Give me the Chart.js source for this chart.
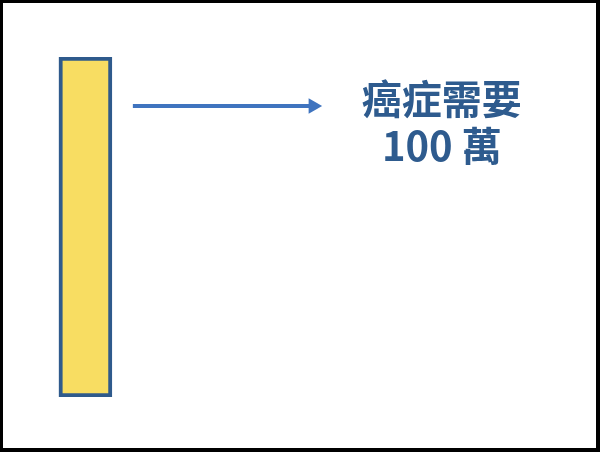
<!DOCTYPE html>
<html>
<head>
<meta charset="utf-8">
<script src="https://cdn.jsdelivr.net/npm/chart.js@4"></script>
<style>
    html, body { margin: 0; padding: 0; background: #fff; }
    .frame {
        width: 600px; height: 452px; box-sizing: border-box;
        border-style: solid; border-color: #000;
        border-width: 3px 4px 4px 3px;
    }
    canvas { display: block; }
</style>
</head>
<body>
<div class="frame"><canvas id="costChart" width="593" height="445"></canvas></div>
<script>
// cost of cancer treatment, in 萬
const barX = [1.39];
const barValues = [100];
const arrowX = [2.19, 5.23];
const arrowY = [85.6, 85.6];
const labelLines = ["癌症需要", "100 萬"];
const labelX = [7.40, 7.40];
const labelY = [87.6, 74.0];

const blueText = "#2E5B8E";

const labelPlugin = {
    id: "labels",
    afterDatasetsDraw(chart) {
        let ctx = chart.ctx,
            xs = chart.scales.x,
            ys = chart.scales.y;
        ctx.save();
        ctx.fillStyle = blueText;
        ctx.font = "bold 40px 'Noto Sans CJK TC'";
        ctx.textAlign = "center";
        ctx.textBaseline = "middle";
        for (let i = 0; i < labelLines.length; i++) {
            ctx.fillText(labelLines[i], xs.getPixelForValue(labelX[i]), ys.getPixelForValue(labelY[i]));
        }
        ctx.restore();
    },
};

const data = {
    datasets: [{
        type: "bar",
        data: barX.map((x, i) => ({x: x, y: barValues[i]})),
        backgroundColor: "#F8DD62",
        borderColor: "#2F5A8C",
        borderWidth: 4,
        borderSkipped: false,
        barThickness: 53,
    }, {
        type: "line",
        data: arrowX.map((x, i) => ({x: x, y: arrowY[i]})),
        borderColor: "#3F74BF",
        borderWidth: 4,
        pointStyle: "triangle",
        rotation: 90,
        pointRadius: [0, 9],
        pointBorderWidth: 0,
        pointBackgroundColor: "#3F74BF",
        clip: false,
    }],
};

const config = {
    data: data,
    options: {
        responsive: false,
        animation: false,
        layout: {autoPadding: false, padding: {top: 54, bottom: 51, left: 0, right: 0}},
        plugins: {legend: {display: false}, tooltip: {enabled: false}},
        scales: {
            x: {type: "linear", min: 0, max: 10, offset: false, display: false},
            y: {type: "linear", min: 0, max: 100, display: false},
        },
    },
    plugins: [labelPlugin],
};

new Chart(document.getElementById("costChart"), config);
</script>
</body>
</html>
